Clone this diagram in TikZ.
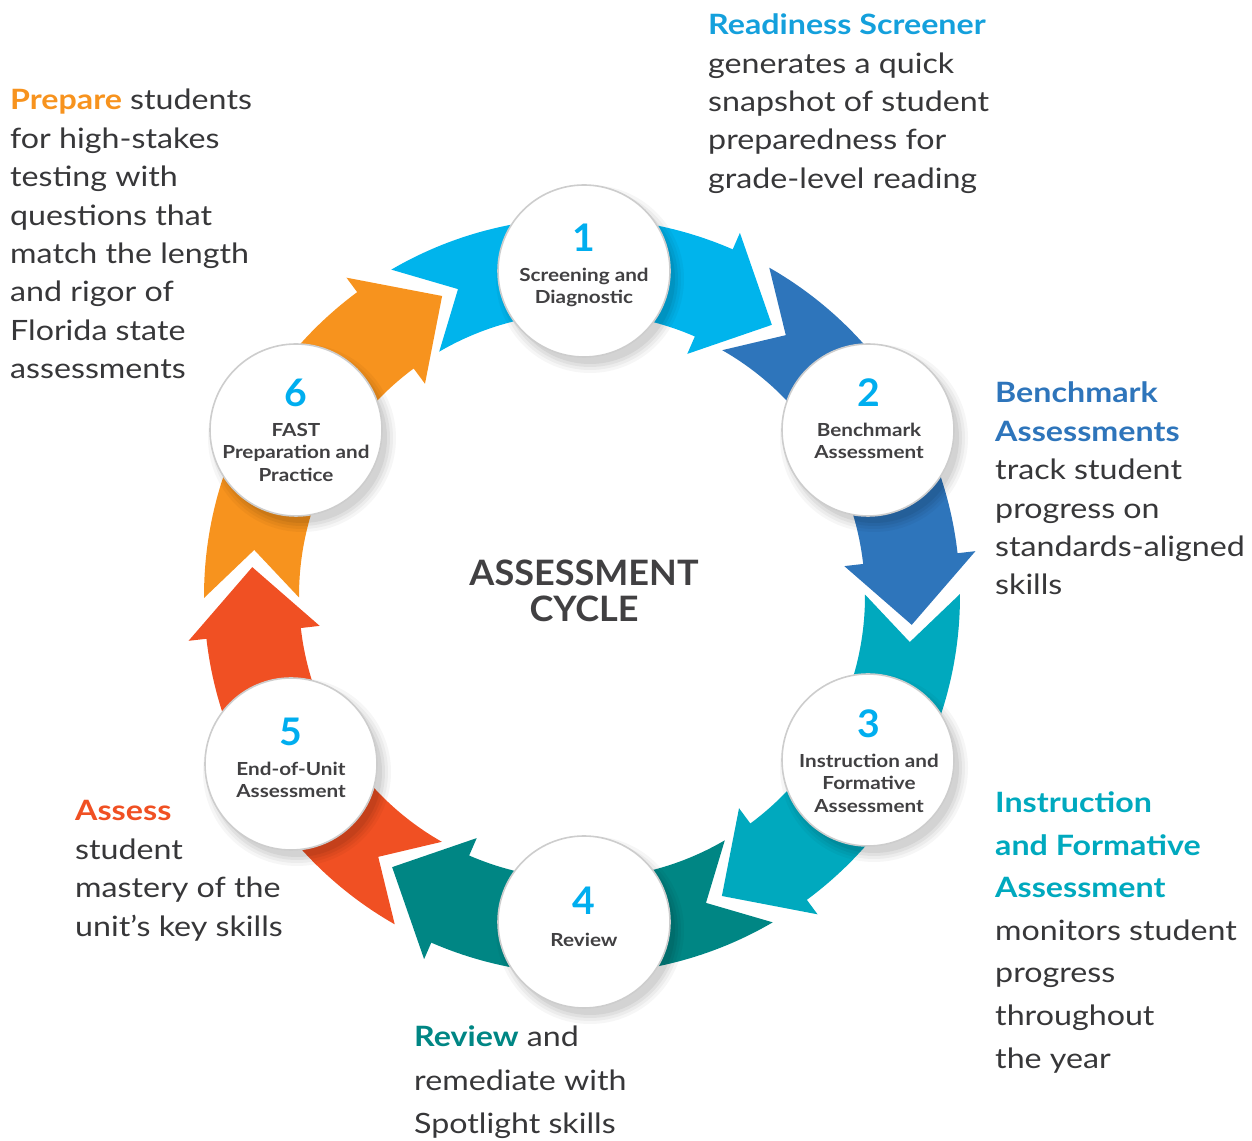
\documentclass[tikz,border=0pt]{standalone}
\usepackage{fontspec}
\setmainfont{Lato}[FakeStretch=1.15]
\newfontfamily\titlefont{Lato}[FakeStretch=1.03]
\definecolor{cA}{RGB}{0,180,236}
\definecolor{cB}{RGB}{46,117,187}
\definecolor{cC}{RGB}{0,169,190}
\definecolor{cD}{RGB}{0,134,132}
\definecolor{cE}{RGB}{240,80,35}
\definecolor{cF}{RGB}{247,147,30}
\definecolor{numcol}{RGB}{0,174,239}
\definecolor{hA}{RGB}{20,160,220}
\definecolor{bodygray}{RGB}{55,55,57}
\definecolor{labgray}{RGB}{65,64,66}
\definecolor{ringgray}{RGB}{205,205,205}
\tikzset{
  bodytxt/.style={anchor=base west, inner sep=0pt, font=\fontsize{28}{34}\selectfont, text=bodygray},
  headtxt/.style={bodytxt, font=\fontsize{28}{34}\selectfont\bfseries},
  stepcircle/.style={circle, draw=ringgray, line width=1.6pt, fill=white, minimum size=172pt, inner sep=0pt},
  numtxt/.style={inner sep=0pt, font=\titlefont\fontsize{38}{40}\selectfont\bfseries, text=numcol},
  labtxt/.style={anchor=base, inner sep=0pt, font=\fontsize{18}{20}\selectfont\bfseries, text=labgray},
  titletxt/.style={anchor=base, inner sep=0pt, font=\titlefont\fontsize{35}{36}\selectfont\bfseries, text=labgray}
}
\begin{document}
\begin{tikzpicture}[x=1pt,y=1pt]
\useasboundingbox (0,0) rectangle (1252,1140);
% ---------- arrows ----------
\begin{scope}[shift={(582,544)}]
\foreach \T/\col in {55/cA, -5/cB, -65/cC, -125/cD, 175/cE, 115/cF} {
  \pgfmathsetmacro\A{\T+65.3}
  \pgfmathsetmacro\N{\T+57}
  \pgfmathsetmacro\B{\T+11.5}
  \fill[\col] (\A:378) arc[start angle=\A, end angle=\B, radius=378]
     -- (\B:396) -- (\T:331) -- (\B:264) -- (\B:283)
     arc[start angle=\B, end angle=\A, radius=283] -- (\N:331) -- cycle;
}
\end{scope}
% ---------- circle shadows ----------
\foreach \cx/\cy in {584/869, 868/710, 868/380, 584/218, 291/376, 296/710} {
  \foreach \r/\o in {94/0.035, 91/0.04, 88/0.05, 85/0.06} {
    \fill[black, opacity=\o] (\cx+6,\cy-8) circle[radius=\r];
  }
}
% ---------- circles ----------
\node[stepcircle] (s1) at (584,869) {};
\node[stepcircle] (s2) at (868,710) {};
\node[stepcircle] (s3) at (868,380) {};
\node[stepcircle] (s4) at (584,218) {};
\node[stepcircle] (s5) at (291,376) {};
\node[stepcircle] (s6) at (296,710) {};
% numbers
\node[numtxt] (n1) at (584,902) {1};
\node[numtxt] (n2) at (869,747) {2};
\node[numtxt] (n3) at (869,416) {3};
\node[numtxt] (n4) at (584,239) {4};
\node[numtxt] (n5) at (291,408) {5};
\node[numtxt] (n6) at (296,747) {6};
% labels
\node[labtxt] (l1a) at (584,858) {Screening and};
\node[labtxt] (l1b) at (584,836) {Diagnostic};
\node[labtxt] (l2a) at (869,703) {Benchmark};
\node[labtxt] (l2b) at (869,681) {Assessment};
\node[labtxt] (l3a) at (869,372) {Instruction and};
\node[labtxt] (l3b) at (869,350) {Formative};
\node[labtxt] (l3c) at (869,327) {Assessment};
\node[labtxt] (l4a) at (584,193) {Review};
\node[labtxt] (l5a) at (291,364) {End-of-Unit};
\node[labtxt] (l5b) at (291,342) {Assessment};
\node[labtxt] (l6a) at (296,703) {FAST};
\node[labtxt] (l6b) at (296,681) {Preparation and};
\node[labtxt] (l6c) at (296,658) {Practice};
% center title
\node[titletxt] (t1) at (584,554) {ASSESSMENT};
\node[titletxt] (t2) at (584,518) {CYCLE};
% ---------- text blocks ----------
% top right
\node[headtxt, text=hA] (rs0) at (708,1105) {Readiness Screener};
\foreach \t [count=\i] in {generates a quick, snapshot of student, preparedness for, grade-level reading}
  \node[bodytxt] (rs\i) at (708,1105-38.3*\i) {\t};
% top left
\node[bodytxt] (pr0) at (10,1030) {\textcolor{cF}{\bfseries Prepare} students};
\foreach \t [count=\i] in {for high-stakes, testing with, questions that, match the length, and rigor of, Florida state, assessments}
  \node[bodytxt] (pr\i) at (10,1030-38.4*\i) {\t};
% right middle
\node[headtxt, text=cB] (ba0) at (995,737) {Benchmark};
\node[headtxt, text=cB] (ba1) at (995,698.6) {Assessments};
\foreach \t [count=\i from 2] in {track student, progress on, standards-aligned, skills}
  \node[bodytxt] (ba\i) at (995,737-38.4*\i) {\t};
% right bottom
\node[headtxt, text=cC] (if0) at (995,327) {Instruction};
\node[headtxt, text=cC] (if1) at (995,284.5) {and Formative};
\node[headtxt, text=cC] (if2) at (995,242) {Assessment};
\foreach \t [count=\i from 3] in {monitors student, progress, throughout, the year}
  \node[bodytxt] (if\i) at (995,327-42.5*\i) {\t};
% bottom
\node[bodytxt] (rv0) at (414,93) {\textcolor{cD}{\bfseries Review} and};
\node[bodytxt] (rv1) at (414,50) {remediate with};
\node[bodytxt] (rv2) at (414,7) {Spotlight skills};
% left bottom
\node[headtxt, text=cE] (as0) at (75,319) {Assess};
\foreach \t [count=\i] in {student, mastery of the, unit’s key skills}
  \node[bodytxt] (as\i) at (75,319-38.5*\i) {\t};
\end{tikzpicture}
\end{document}
